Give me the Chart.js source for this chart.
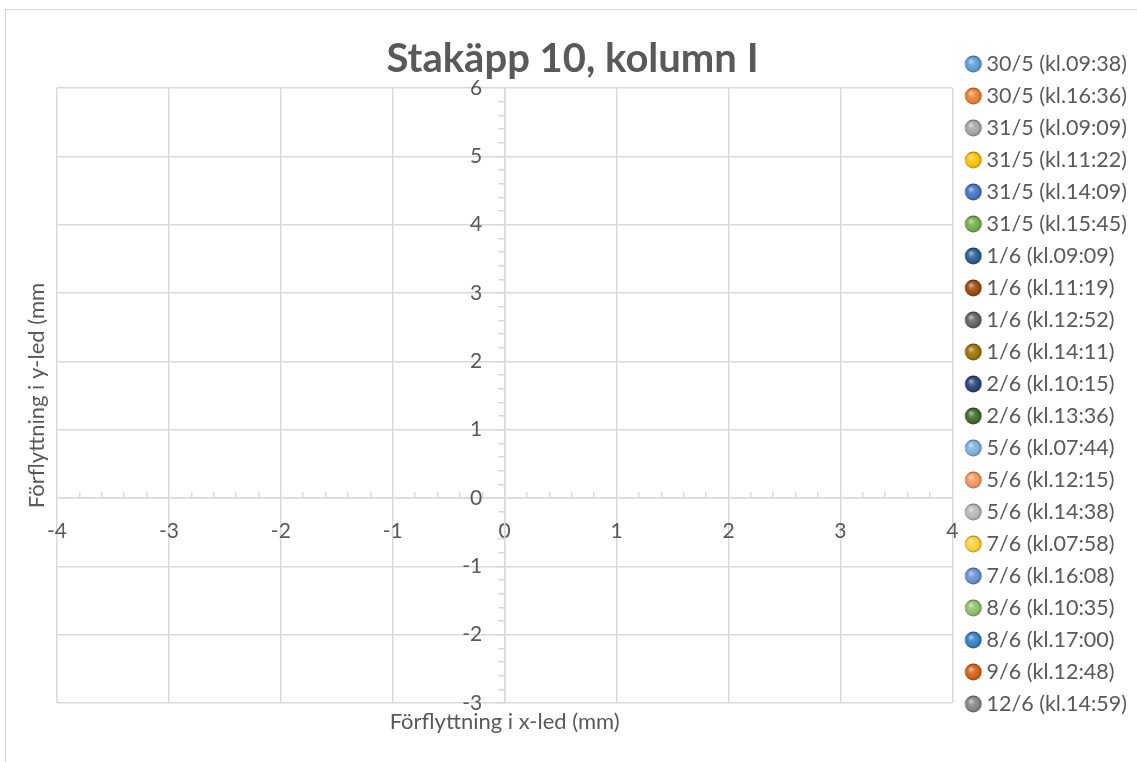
<!DOCTYPE html>
<html lang="sv">
<head>
<meta charset="utf-8">
<title>Stakäpp 10, kolumn I</title>
<script src="https://cdn.jsdelivr.net/npm/chart.js@4/dist/chart.umd.min.js"></script>
<style>
  html, body { margin: 0; padding: 0; background: #fff; overflow: hidden; }
  #frame {
    position: absolute; left: 5px; top: 9px; width: 1200px; height: 800px;
    border: 1.5px solid #d9d9d9; box-sizing: border-box;
  }
  #c { position: absolute; left: 0; top: 0; }
</style>
</head>
<body>
<div id="frame"></div>
<canvas id="c" width="1137" height="762"></canvas>
<script>
// Measurement sessions (date and time of reading)
const seriesLabels = [
  '30/5 (kl.09:38)', '30/5 (kl.16:36)', '31/5 (kl.09:09)', '31/5 (kl.11:22)',
  '31/5 (kl.14:09)', '31/5 (kl.15:45)', '1/6 (kl.09:09)', '1/6 (kl.11:19)',
  '1/6 (kl.12:52)', '1/6 (kl.14:11)', '2/6 (kl.10:15)', '2/6 (kl.13:36)',
  '5/6 (kl.07:44)', '5/6 (kl.12:15)', '5/6 (kl.14:38)', '7/6 (kl.07:58)',
  '7/6 (kl.16:08)', '8/6 (kl.10:35)', '8/6 (kl.17:00)', '9/6 (kl.12:48)',
  '12/6 (kl.14:59)'
];

// Displacement points {x, y} in mm per session; none recorded for this column
const seriesPoints = [
  [], [], [], [], [], [], [], [], [], [], [],
  [], [], [], [], [], [], [], [], [], []
];

const seriesColors = [
  '#5B9BD5', '#ED7D31', '#A5A5A5', '#FFC000', '#4472C4', '#70AD47',
  '#255E91', '#9E480E', '#636363', '#997300', '#264478', '#43682B',
  '#7CAFDD', '#F1975A', '#B7B7B7', '#FFCD33', '#698ED0', '#8CC168',
  '#327DC2', '#D26012', '#848484'
];

// Axis ranges (mm)
const xRange = [-4, 4];
const yRange = [-3, 6];
const majorStep = 1;
const minorStep = 0.2;
// value labels of the vertical axis sit a little to the left of it
const yLabelAnchor = -0.2;

const TEXT = '#595959';
const GRID = '#d9d9d9';
const FONT = 'Lato, "Open Sans", sans-serif';

function mix(hex, target, t) {
  const a = parseInt(hex.slice(1), 16), b = parseInt(target.slice(1), 16);
  const ch = (v, s) => (v >> s) & 255;
  const m = s => Math.round(ch(a, s) + (ch(b, s) - ch(a, s)) * t);
  return `rgb(${m(16)},${m(8)},${m(0)})`;
}

// Shaded sphere used as legend marker
function sphere(color) {
  const c = document.createElement('canvas');
  c.width = 40; c.height = 20;
  const g = c.getContext('2d');
  const cx = 20 + 4, cy = 10, r = 8.4;
  const grad = g.createRadialGradient(cx - 2.6, cy - 3.2, 0.4, cx, cy + 0.5, r);
  grad.addColorStop(0, mix(color, '#ffffff', 0.6));
  grad.addColorStop(0.35, mix(color, '#ffffff', 0.15));
  grad.addColorStop(0.75, color);
  grad.addColorStop(1, mix(color, '#000000', 0.35));
  g.fillStyle = grad;
  g.beginPath();
  g.arc(cx, cy, r, 0, Math.PI * 2);
  g.fill();
  return c;
}

const datasets = seriesLabels.map((label, i) => ({
  label,
  data: seriesPoints[i],
  backgroundColor: seriesColors[i],
  borderColor: seriesColors[i],
  pointStyle: sphere(seriesColors[i]),
  pointRadius: 8,
  xAxisID: 'x',
  yAxisID: 'y'
}));

new Chart(document.getElementById('c'), {
  type: 'scatter',
  data: { datasets },
  options: {
    responsive: false,
    animation: false,
    devicePixelRatio: 1,
    layout: { padding: { top: 30.6, bottom: 24.6, left: 8, right: 0 } },
    plugins: {
      tooltip: { enabled: false },
      title: {
        display: true,
        text: 'Stakäpp 10, kolumn I',
        color: TEXT,
        font: { family: FONT, size: 40, weight: 'bold', lineHeight: 1.2 },
        padding: { top: 4, bottom: 5.4 }
      },
      legend: {
        position: 'right',
        align: 'center',
        maxWidth: 400,
        labels: {
          usePointStyle: true,
          pointStyleWidth: 13,
          padding: 10.5,
          color: TEXT,
          font: { family: FONT, size: 21.5 }
        }
      }
    },
    scales: {
      // gridlines and axis titles
      x: {
        type: 'linear', position: 'bottom',
        min: xRange[0], max: xRange[1],
        ticks: { stepSize: majorStep, display: false },
        grid: { color: GRID, lineWidth: 1.5, drawTicks: false },
        border: { display: false },
        title: {
          display: true, text: 'Förflyttning i x-led (mm)', color: TEXT,
          font: { family: FONT, size: 22, lineHeight: 1.2 },
          padding: { top: 6, bottom: 2 }
        }
      },
      y: {
        type: 'linear', position: 'left',
        min: yRange[0], max: yRange[1],
        ticks: { stepSize: majorStep, display: false },
        grid: { color: GRID, lineWidth: 1.5, drawTicks: false },
        border: { display: false },
        title: {
          display: true, text: 'Förflyttning i y-led (mm', color: TEXT,
          font: { family: FONT, size: 22, lineHeight: 1.2 },
          padding: { top: 16, bottom: 6.6 }
        }
      },
      // horizontal axis through y = 0, with value labels
      xAxis0: {
        axis: 'x', type: 'linear', position: { y: 0 },
        min: xRange[0], max: xRange[1],
        ticks: { stepSize: majorStep, color: TEXT, padding: 21, font: { family: FONT, size: 21 }, maxRotation: 0 },
        grid: { display: false, drawTicks: false },
        border: { display: true, color: GRID, width: 1.5 }
      },
      // value labels of the vertical axis
      yLabels: {
        axis: 'y', type: 'linear', position: { x: yLabelAnchor },
        min: yRange[0], max: yRange[1],
        ticks: { stepSize: majorStep, color: TEXT, padding: 0, font: { family: FONT, size: 21 } },
        grid: { display: false, drawTicks: false },
        border: { display: false }
      },
      // minor tick marks on the crossing axes
      xMinor: {
        axis: 'x', type: 'linear', position: { y: 0 },
        min: xRange[0], max: xRange[1],
        ticks: { stepSize: minorStep, display: false },
        grid: { drawOnChartArea: false, drawTicks: true, tickLength: -6, color: GRID, lineWidth: 1.5 },
        border: { display: false }
      },
      yMinor: {
        axis: 'y', type: 'linear', position: { x: 0 },
        min: yRange[0], max: yRange[1],
        ticks: { stepSize: minorStep, display: false },
        grid: { drawOnChartArea: false, drawTicks: true, tickLength: 6, color: GRID, lineWidth: 1.5 },
        border: { display: true, color: GRID, width: 1.5 }
      }
    }
  }
});
</script>
</body>
</html>
